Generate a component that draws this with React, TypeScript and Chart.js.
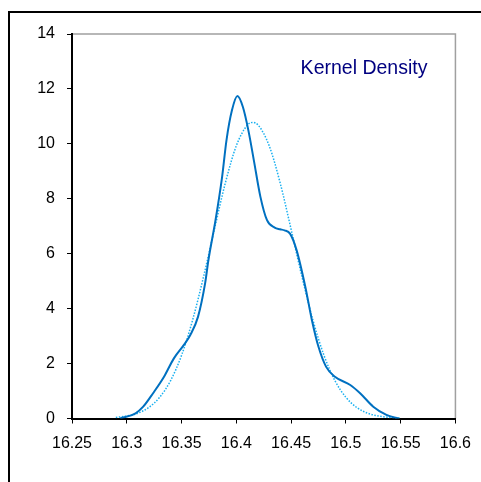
import React, { useEffect, useRef } from "react";
import { Chart, registerables } from "chart.js";

Chart.register(...registerables);

const kdeX = [16.294, 16.308, 16.315, 16.324, 16.334, 16.343, 16.352, 16.358, 16.365, 16.3715, 16.3745, 16.381, 16.387, 16.391, 16.396, 16.401, 16.406, 16.411, 16.416, 16.422, 16.428, 16.435, 16.44, 16.444, 16.449, 16.455, 16.463, 16.469, 16.475, 16.482, 16.49, 16.504, 16.513, 16.525, 16.537, 16.548];
const kdeY = [0, 0.19, 0.43, 0.92, 1.52, 2.19, 2.67, 3.04, 3.7, 4.92, 5.76, 7.22, 8.79, 10.13, 11.22, 11.74, 11.34, 10.49, 9.4, 8.07, 7.22, 6.95, 6.89, 6.85, 6.73, 6.13, 4.79, 3.58, 2.61, 1.88, 1.52, 1.22, 0.92, 0.43, 0.13, 0];

const normX = [16.29, 16.3, 16.31, 16.32, 16.33, 16.34, 16.35, 16.36, 16.37, 16.38, 16.39, 16.4, 16.41, 16.415, 16.42, 16.43, 16.44, 16.45, 16.46, 16.47, 16.48, 16.49, 16.5, 16.51, 16.52, 16.53, 16.54, 16.55];
const normY = [0.04, 0.09, 0.19, 0.4, 0.77, 1.38, 2.3, 3.57, 5.15, 6.89, 8.58, 9.93, 10.68, 10.78, 10.68, 9.93, 8.58, 6.89, 5.15, 3.57, 2.3, 1.38, 0.77, 0.4, 0.19, 0.09, 0.04, 0.02];

const xTicks = [16.25, 16.3, 16.35, 16.4, 16.45, 16.5, 16.55, 16.6];
const xTickLabels = ["16.25", "16.3", "16.35", "16.4", "16.45", "16.5", "16.55", "16.6"];
const yTicks = [0, 2, 4, 6, 8, 10, 12, 14];
const yTickLabels = ["0", "2", "4", "6", "8", "10", "12", "14"];

const annotationText = "Kernel Density";

const FONT = "Arial, 'Liberation Sans', sans-serif";

export default function App() {
  const ref = useRef<HTMLCanvasElement>(null);

  useEffect(() => {
    if (!ref.current) return;
    const decor = {
      id: "decor",
      beforeDraw(chart: any) {
        const ctx = chart.ctx;
        ctx.save();
        ctx.fillStyle = "#fff";
        ctx.fillRect(0, 0, chart.width, chart.height);
        ctx.strokeStyle = "#000";
        ctx.lineWidth = 2;
        ctx.strokeRect(9, 12, 700, 700);
        const a = chart.chartArea;
        ctx.strokeStyle = "#a0a0a0";
        ctx.lineWidth = 1.5;
        ctx.beginPath();
        ctx.moveTo(a.left, a.top);
        ctx.lineTo(a.right, a.top);
        ctx.lineTo(a.right, a.bottom);
        ctx.stroke();
        ctx.restore();
      },
      afterDraw(chart: any) {
        const ctx = chart.ctx;
        const a = chart.chartArea;
        ctx.save();
        ctx.fillStyle = "#000080";
        ctx.font = `19.5px ${FONT}`;
        ctx.textAlign = "right";
        ctx.textBaseline = "alphabetic";
        ctx.fillText(annotationText, a.right - 28, a.top + 39.5);
        ctx.restore();
      },
    };

    const chart = new Chart(ref.current, {
      type: "line",
      data: {
        datasets: [
          {
            label: "Kernel Density",
            data: kdeX.map((x, i) => ({ x, y: kdeY[i] })),
            borderColor: "#0070C0",
            borderWidth: 2,
            pointRadius: 0,
            cubicInterpolationMode: "monotone",
            fill: false,
          },
          {
            label: "Normal",
            data: normX.map((x, i) => ({ x, y: normY[i] })),
            borderColor: "#1AB0F0",
            borderWidth: 1.5,
            borderDash: [1.5, 1.5],
            pointRadius: 0,
            cubicInterpolationMode: "monotone",
            fill: false,
          },
        ],
      },
      options: {
        animation: false,
        responsive: false,
        devicePixelRatio: 1,
        layout: { padding: { top: 34, right: 25, bottom: 0, left: 0 } },
        plugins: { legend: { display: false }, tooltip: { enabled: false }, title: { display: false } },
        scales: {
          x: {
            type: "linear",
            min: 16.25,
            max: 16.6,
            afterBuildTicks: (s: any) => {
              s.ticks = xTicks.map((v) => ({ value: v }));
            },
            afterFit: (s: any) => {
              s.height = 63.5;
            },
            ticks: {
              autoSkip: false,
              maxRotation: 0,
              color: "#000",
              font: { family: FONT, size: 16 },
              padding: 10,
              callback: (_v: any, i: number) => xTickLabels[i],
            },
            grid: { drawOnChartArea: false, drawTicks: true, tickLength: 5, color: "#000", lineWidth: 1 },
            border: { display: true, color: "#000", width: 2 },
          },
          y: {
            type: "linear",
            min: 0,
            max: 14,
            afterBuildTicks: (s: any) => {
              s.ticks = yTicks.map((v) => ({ value: v }));
            },
            afterFit: (s: any) => {
              s.width = 72;
            },
            ticks: {
              autoSkip: false,
              color: "#000",
              font: { family: FONT, size: 16 },
              padding: 12,
              callback: (_v: any, i: number) => yTickLabels[i],
            },
            grid: { drawOnChartArea: false, drawTicks: true, tickLength: 5, color: "#000", lineWidth: 1 },
            border: { display: true, color: "#000", width: 2 },
          },
        },
      },
      plugins: [decor],
    });
    return () => chart.destroy();
  }, []);

  return (
    <div style={{ position: "fixed", left: 0, top: 0, width: 481, height: 482, background: "#fff" }}>
      <canvas ref={ref} width={481} height={482} style={{ display: "block", width: 481, height: 482 }} />
    </div>
  );
}
